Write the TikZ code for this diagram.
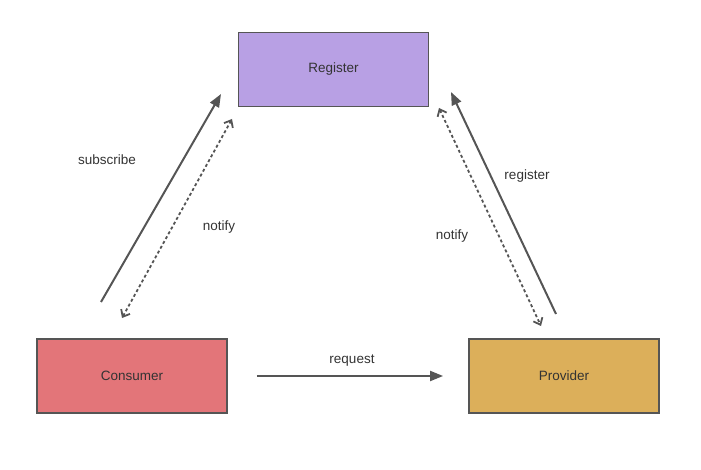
\documentclass[tikz,border=0pt]{standalone}
\usepackage{fontspec}
\setmainfont{Liberation Sans}
\usetikzlibrary{arrows.meta, positioning}
\definecolor{regpurple}{RGB}{184,160,228}
\definecolor{conred}{RGB}{227,117,121}
\definecolor{provgold}{RGB}{220,175,90}
\definecolor{edgegray}{RGB}{85,85,85}
\definecolor{txtgray}{RGB}{51,51,51}

\begin{document}
\begin{tikzpicture}[x=1pt, y=-1pt,
  box/.style={draw=edgegray, line width=1.8pt, minimum width=190pt, minimum height=74pt, font=\fontsize{13.5}{15}\selectfont, text=txtgray},
  call/.style={draw=edgegray, line width=2pt, -{Triangle[length=13pt, width=10pt]}},
  back/.style={draw=edgegray, line width=1.8pt, dash pattern=on 3pt off 2.5pt, {Straight Barb[length=6pt, width=10pt]}-{Straight Barb[length=6pt, width=10pt]}},
  lbl/.style={font=\fontsize{13.5}{15}\selectfont, text=txtgray}]
  \useasboundingbox (0,0) rectangle (701,470);
  % Nodes
  \node[box, fill=regpurple] (register) at (333.5,69.5) {Register};
  \node[box, fill=conred] (consumer) at (132,376) {Consumer};
  \node[box, fill=provgold] (provider) at (564,376) {Provider};

  % Free ends of the connectors
  \coordinate (subA) at (101,302);
  \coordinate (subB) at (221,94);
  \coordinate (ntlA) at (122,318);
  \coordinate (ntlB) at (232,119);
  \coordinate (regA) at (556,314);
  \coordinate (regB) at (451,92);
  \coordinate (ntrA) at (439,108);
  \coordinate (ntrB) at (541,326);

  % Connectors
  \draw[call] (subA) -- (subB);
  \draw[back] (ntlA) -- (ntlB);
  \draw[call] (regA) -- (regB);
  \draw[back] (ntrA) -- (ntrB);
  \draw[call, shorten <=29pt, shorten >=25pt] (consumer) -- (provider);

  % Labels
  \node[lbl] (sublbl) at (107,160) {subscribe};
  \node[lbl] (ntllbl) at (219,227) {notify};
  \node[lbl] (reglbl) at (527,176) {register};
  \node[lbl] (ntrlbl) at (452,236) {notify};
  \node[lbl] (reqlbl) at (352,361) {request};
\end{tikzpicture}
\end{document}
